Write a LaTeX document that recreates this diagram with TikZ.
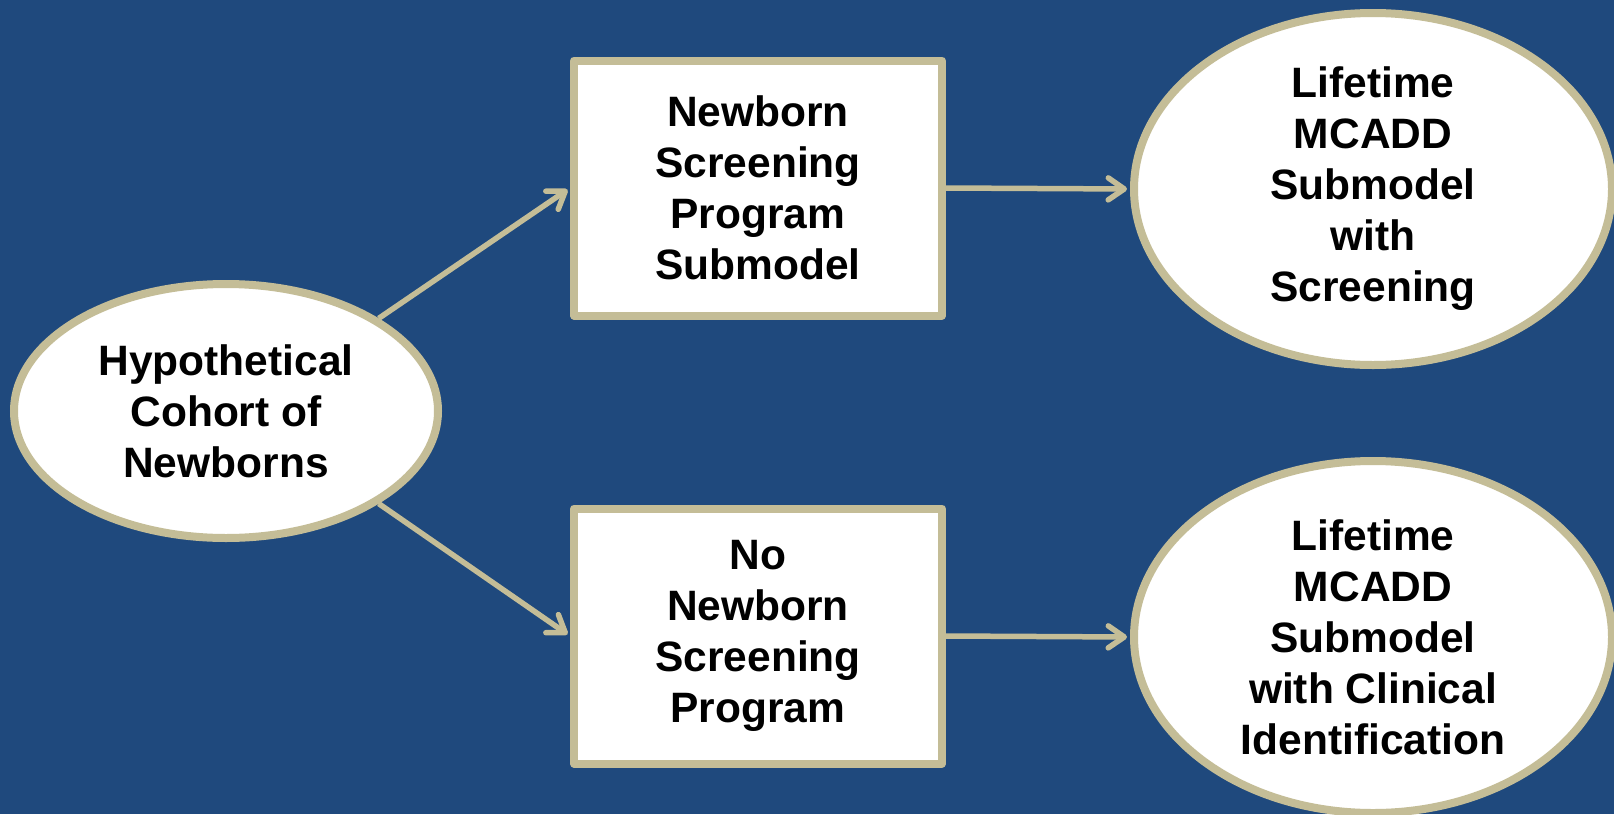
\documentclass[tikz,border=0pt]{standalone}
\usepackage{fontspec}
\setmainfont{Liberation Sans}
\usetikzlibrary{shapes.geometric,arrows.meta}
\definecolor{bgblue}{HTML}{1F497D}
\definecolor{tan}{HTML}{C4BD97}
\tikzset{
  lbl/.style={font=\fontsize{42.5}{51}\selectfont\bfseries, text=black, align=center, inner sep=0pt},
  ellbox/.style={lbl, ellipse, draw=tan, fill=white, line width=8pt},
  rectbox/.style={lbl, rectangle, draw=tan, fill=white, line width=8pt, line join=round},
  conn/.style={draw=tan, line width=5.5pt, -{Straight Barb[length=16pt,width=22pt,line cap=round,line join=round]}, shorten >=3pt}
}
\begin{document}
\begin{tikzpicture}[x=1pt,y=-1pt]
\fill[bgblue] (0,0) rectangle (1614,814);
\useasboundingbox (0,0) rectangle (1614,814);
\node[ellbox, minimum width=424pt, minimum height=254pt] (L) at (226,411) {Hypothetical\\Cohort of\\Newborns};
\node[rectbox, minimum width=368pt, minimum height=255pt] (T) at (758,188) {Newborn\\Screening\\Program\\Submodel};
\node[rectbox, minimum width=368pt, minimum height=255pt] (B) at (758,636) {No\\Newborn\\Screening\\Program};
\node[ellbox, minimum width=478pt, minimum height=352pt] (TR) at (1373,189) {Lifetime\\MCADD\\Submodel\\with\\Screening};
\node[ellbox, minimum width=478pt, minimum height=352pt] (BR) at (1373,637) {Lifetime\\MCADD\\Submodel\\with Clinical\\Identification};
\draw[conn] (L.north east) -- (T.west);
\draw[conn] (L.south east) -- (B.west);
\draw[conn] (T.east) -- (TR.west);
\draw[conn] (B.east) -- (BR.west);
\end{tikzpicture}
\end{document}
